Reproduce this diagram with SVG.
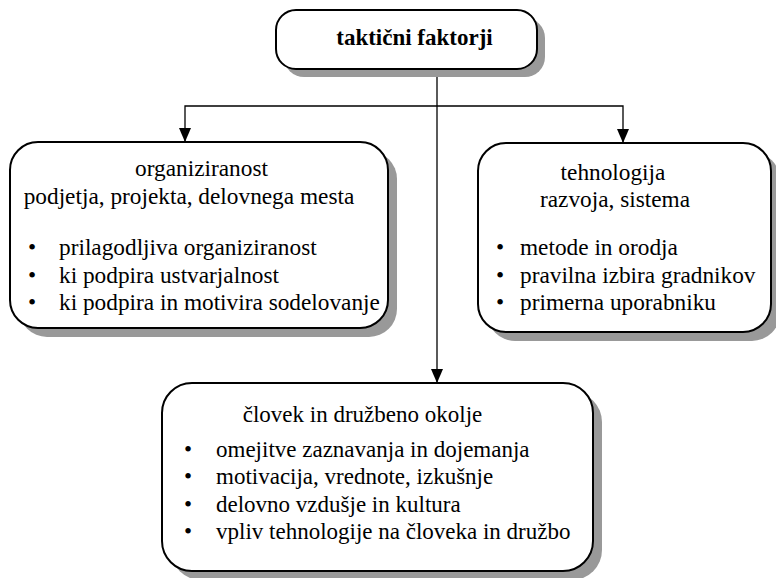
<svg xmlns="http://www.w3.org/2000/svg" width="776" height="578" viewBox="0 0 776 578" font-family="'Liberation Serif', 'Times New Roman', Times, 'DejaVu Serif', serif">
<style>
  .box{fill:#fff;stroke:#000;stroke-width:2}
  .shadow{fill:#999}
  .conn{fill:none;stroke:#000;stroke-width:1.3}
  text{font-family:'Liberation Serif','Times New Roman',Times,'DejaVu Serif',serif;font-size:23.3px;fill:#000}
  .title{font-weight:bold;font-size:23px;text-anchor:middle}
  .mid{text-anchor:middle}
  .bul{text-anchor:middle}
  .small{font-size:23px}
</style>
<defs>
  <marker id="arrd" markerUnits="userSpaceOnUse" markerWidth="12" markerHeight="14" viewBox="0 0 12 14" refX="6" refY="14" orient="0">
    <path d="M0,0 L12,0 L6,14 Z" fill="#000"/>
  </marker>
</defs>

<g id="connectors">
  <path class="conn" d="M437,69 V383" marker-end="url(#arrd)"/>
  <path class="conn" d="M437,106 H185 V142" marker-end="url(#arrd)"/>
  <path class="conn" d="M437,106 H623 V143" marker-end="url(#arrd)"/>
</g>

<g id="node-top">
  <rect class="shadow" x="284" y="18" width="261" height="59" rx="20"/>
  <rect class="box" x="276" y="10" width="261" height="59" rx="20"/>
  <text class="title" x="414.5" y="45">taktični faktorji</text>
</g>

<g id="node-left">
  <rect class="shadow" x="19" y="151" width="378" height="186" rx="28"/>
  <rect class="box" x="10" y="142" width="378" height="186" rx="28"/>
  <text class="mid" x="201.5" y="176">organiziranost</text>
  <text class="mid" x="189" y="204">podjetja, projekta, delovnega mesta</text>
  <text class="bul" x="32" y="255">•</text>
  <text x="59" y="255">prilagodljiva organiziranost</text>
  <text class="bul" x="32" y="282.5">•</text>
  <text x="59" y="282.5">ki podpira ustvarjalnost</text>
  <text class="bul" x="32" y="310">•</text>
  <text x="59" y="310">ki podpira in motivira sodelovanje</text>
</g>

<g id="node-right">
  <rect class="shadow" x="487" y="152" width="293" height="189" rx="28"/>
  <rect class="box" x="478" y="143" width="293" height="189" rx="28"/>
  <text class="mid" x="613" y="180">tehnologija</text>
  <text class="mid" x="615" y="206.5">razvoja, sistema</text>
  <text class="bul" x="500" y="255">•</text>
  <text x="520" y="255">metode in orodja</text>
  <text class="bul" x="500" y="282.5">•</text>
  <text x="520" y="282.5">pravilna izbira gradnikov</text>
  <text class="bul" x="500" y="310">•</text>
  <text x="520" y="310">primerna uporabniku</text>
</g>

<g id="node-bottom">
  <rect class="shadow" x="171" y="392" width="431" height="188" rx="30"/>
  <rect class="box" x="162" y="383" width="431" height="188" rx="30"/>
  <text class="mid small" x="362.5" y="422">človek in družbeno okolje</text>
  <text class="bul small" x="188" y="457">•</text>
  <text class="small" x="216" y="457">omejitve zaznavanja in dojemanja</text>
  <text class="bul small" x="188" y="484">•</text>
  <text class="small" x="216" y="484">motivacija, vrednote, izkušnje</text>
  <text class="bul small" x="188" y="511.5">•</text>
  <text class="small" x="216" y="511.5">delovno vzdušje in kultura</text>
  <text class="bul small" x="188" y="539">•</text>
  <text class="small" x="216" y="539">vpliv tehnologije na človeka in družbo</text>
</g>
</svg>
